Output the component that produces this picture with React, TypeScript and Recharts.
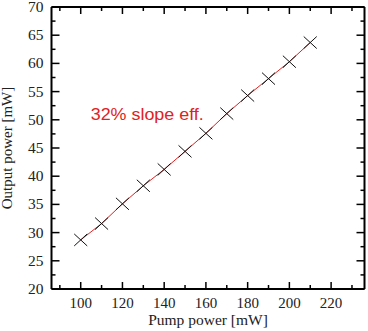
import React from "react";
import { ComposedChart, XAxis, YAxis, Line, Scatter } from "recharts";

const pumpPower = [100, 110, 120, 130, 140, 150, 160, 170, 180, 190, 200, 210];
const outputPower = [28.7, 31.6, 35.1, 38.3, 41.2, 44.4, 47.6, 51.1, 54.3, 57.3, 60.3, 63.7];
const xTicks = [90, 100, 110, 120, 130, 140, 150, 160, 170, 180, 190, 200, 210, 220, 230];
const yTicks = [20, 22.5, 25, 27.5, 30, 32.5, 35, 37.5, 40, 42.5, 45, 47.5, 50, 52.5, 55, 57.5, 60, 62.5, 65, 67.5, 70];
const annotationText = "32% slope eff.";
const annotationPos = [{ x: 104.8, y: 49.9 }];

const points = pumpPower.map((x, i) => ({ x, y: outputPower[i] }));

const serif = "Liberation Serif, Times New Roman, serif";
const sans = "Liberation Sans, Arial, sans-serif";

const BottomTick = (props: any) => {
  const { x, y, payload } = props;
  const v = payload.value;
  const major = v % 20 === 0;
  return (
    <g>
      <line x1={x} x2={x} y1={y} y2={y - (major ? 7 : 4)} stroke="#000" strokeWidth={1.5} />
      {major && (
        <text x={x} y={y + 19} textAnchor="middle" style={{ fontFamily: serif, fontSize: 15 }} fill="#222">
          {v}
        </text>
      )}
    </g>
  );
};

const TopTick = (props: any) => {
  const { x, y, payload } = props;
  const v = payload.value;
  const major = v % 20 === 0;
  return <line x1={x} x2={x} y1={y} y2={y + (major ? 7 : 4)} stroke="#000" strokeWidth={1.5} />;
};

const LeftTick = (props: any) => {
  const { x, y, payload } = props;
  const v = payload.value;
  const major = v % 5 === 0;
  return (
    <g>
      <line x1={x} x2={x + (major ? 8 : 4)} y1={y} y2={y} stroke="#000" strokeWidth={1.5} />
      {major && (
        <text x={x - 8} y={y + 5} textAnchor="end" style={{ fontFamily: serif, fontSize: 15.5 }} fill="#222">
          {v}
        </text>
      )}
    </g>
  );
};

const RightTick = (props: any) => {
  const { x, y, payload } = props;
  const v = payload.value;
  const major = v % 5 === 0;
  return <line x1={x} x2={x - (major ? 8 : 4)} y1={y} y2={y} stroke="#000" strokeWidth={1.5} />;
};

const Cross = (props: any) => {
  const { cx, cy } = props;
  if (cx == null || cy == null) return null;
  const w = 6.5;
  const h = 6;
  return (
    <path
      d={`M${cx - w},${cy - h}L${cx + w},${cy + h}M${cx - w},${cy + h}L${cx + w},${cy - h}`}
      stroke="#111"
      strokeWidth={1}
      fill="none"
    />
  );
};

const AnnotationShape = (props: any) => {
  const { cx, cy } = props;
  if (cx == null || cy == null) return null;
  return (
    <text x={cx} y={cy} style={{ fontFamily: sans, fontSize: 16.5 }} fill="#e02222" textLength={113} lengthAdjust="spacingAndGlyphs">
      {annotationText}
    </text>
  );
};

export default function App() {
  return (
    <div style={{ position: "absolute", left: 0, top: 0, width: 368, height: 331, background: "#fff" }}>
      <ComposedChart width={368} height={331} margin={{ top: 6, right: 2.5, bottom: 0, left: 0.5 }}>
        <XAxis
          xAxisId="b"
          dataKey="x"
          type="number"
          domain={[86, 236]}
          ticks={xTicks}
          interval={0}
          allowDataOverflow
          tickSize={0}
          tickMargin={0}
          tickLine={false}
          axisLine={{ stroke: "#000", strokeWidth: 2 }}
          tick={BottomTick}
          height={42}
          label={{ value: "Pump power [mW]", position: "insideBottom", offset: 6, style: { fontFamily: serif, fontSize: 15.5 }, fill: "#222" }}
        />
        <XAxis
          xAxisId="t"
          dataKey="x"
          type="number"
          orientation="top"
          domain={[86, 236]}
          ticks={xTicks}
          interval={0}
          allowDataOverflow
          tickSize={0}
          tickMargin={0}
          tickLine={false}
          axisLine={{ stroke: "#000", strokeWidth: 2 }}
          tick={TopTick}
          height={1}
        />
        <YAxis
          yAxisId="l"
          type="number"
          domain={[20, 70]}
          ticks={yTicks}
          interval={0}
          allowDataOverflow
          tickSize={0}
          tickMargin={0}
          tickLine={false}
          axisLine={{ stroke: "#000", strokeWidth: 2 }}
          tick={LeftTick}
          width={51}
          label={{ value: "Output power [mW]", angle: -90, position: "insideLeft", offset: 6, style: { fontFamily: serif, fontSize: 15, textAnchor: "middle" }, fill: "#222" }}
        />
        <YAxis
          yAxisId="r"
          type="number"
          orientation="right"
          domain={[20, 70]}
          ticks={yTicks}
          interval={0}
          allowDataOverflow
          tickSize={0}
          tickMargin={0}
          tickLine={false}
          axisLine={{ stroke: "#000", strokeWidth: 2 }}
          tick={RightTick}
          width={1}
        />
        <Line
          xAxisId="t"
          yAxisId="r"
          data={points}
          dataKey="y"
          stroke="#e02222"
          strokeWidth={1}
          dot={false}
          activeDot={false}
          isAnimationActive={false}
        />
        <Scatter
          xAxisId="b"
          yAxisId="l"
          data={points}
          dataKey="y"
          shape={Cross}
          isAnimationActive={false}
        />
        <Scatter
          xAxisId="b"
          yAxisId="l"
          data={annotationPos}
          dataKey="y"
          shape={AnnotationShape}
          isAnimationActive={false}
        />
      </ComposedChart>
    </div>
  );
}
